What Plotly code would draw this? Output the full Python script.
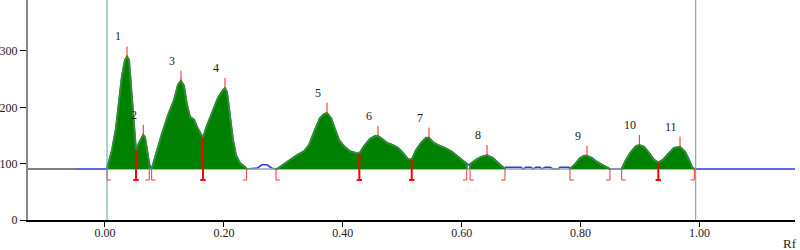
import numpy as np
import plotly.graph_objects as go

# ---------------- data ----------------
BASE = 90.5
pre_rf = [-0.1295, -0.0505]          # grey lead-in before scan start

profile_rf = [-0.0505, 0.0034, 0.0050, 0.0118, 0.0185, 0.0235, 0.0286, 0.0336, 0.0370, 0.0404,
              0.0437, 0.0471, 0.0505, 0.0521, 0.0572, 0.0622, 0.0644, 0.0673, 0.0706, 0.0740,
              0.0782, 0.0807, 0.0875, 0.0959, 0.1060, 0.1161, 0.1228, 0.1278, 0.1329, 0.1379,
              0.1430, 0.1497, 0.1548, 0.1598, 0.1648, 0.1699, 0.1800, 0.1901, 0.1985, 0.2018,
              0.2052, 0.2103, 0.2153, 0.2204, 0.2271, 0.2355, 0.2389, 0.2557, 0.2641, 0.2725,
              0.2809, 0.2893, 0.2994, 0.3112, 0.3230, 0.3347, 0.3431, 0.3516, 0.3616, 0.3684,
              0.3734, 0.3802, 0.3869, 0.3936, 0.4020, 0.4121, 0.4222, 0.4278, 0.4357, 0.4458,
              0.4542, 0.4592, 0.4659, 0.4743, 0.4844, 0.4928, 0.5013, 0.5097, 0.5159, 0.5231,
              0.5315, 0.5400, 0.5450, 0.5517, 0.5601, 0.5719, 0.5837, 0.5938, 0.6039, 0.6089,
              0.6114, 0.6140, 0.6240, 0.6325, 0.6426, 0.6526, 0.6611, 0.6711, 0.6745, 0.6997,
              0.7031, 0.7082, 0.7166, 0.7199, 0.7250, 0.7317, 0.7351, 0.7401, 0.7485, 0.7536,
              0.7620, 0.7653, 0.7805, 0.7821, 0.7906, 0.7990, 0.8057, 0.8108, 0.8192, 0.8276,
              0.8360, 0.8427, 0.8494, 0.8691, 0.8764, 0.8848, 0.8932, 0.8988, 0.9067, 0.9151,
              0.9235, 0.9307, 0.9386, 0.9470, 0.9571, 0.9672, 0.9756, 0.9823, 0.9874, 0.9907,
              1.1606]
profile_val = [90.5, 90.5, 98, 124, 163, 213, 256, 284, 290, 284,
               240, 186, 137, 124, 137, 149, 151, 147, 124, 101,
               90.5, 98, 124, 154, 186, 213, 240, 247, 238, 204,
               183, 178, 165, 154, 146, 163, 190, 217, 231, 234,
               227, 186, 142, 115, 101, 94, 90.5, 92, 98, 98,
               92, 90.5, 98, 107, 115, 122, 133, 156, 181, 188,
               190, 181, 160, 142, 131, 122, 119, 118, 131, 144,
               149, 149, 144, 137, 133, 128, 119, 108, 107, 124,
               137, 146, 146, 138, 133, 128, 121, 112, 103, 99,
               98, 99, 107, 112, 115, 110, 101, 92, 93.5, 93.5,
               90.5, 93.5, 93.5, 90.5, 93.5, 93.5, 90.5, 93.5, 93.5, 90.5,
               90.5, 93.5, 93.5, 90.5, 99, 110, 114, 114, 110, 103,
               98, 94, 90.5, 90.5, 107, 121, 131, 133, 130, 119,
               107, 102, 107, 117, 128, 130, 121, 107, 94, 90.5,
               90.5]

peak_labels = ["1", "2", "3", "4", "5", "6", "7", "8", "9", "10", "11"]
peak_rf = [0.0370, 0.0644, 0.1278, 0.2018, 0.3734, 0.4592, 0.5450, 0.6426, 0.8108, 0.8988, 0.9672]
peak_val = [290, 151, 247, 234, 190, 149, 146, 115, 114, 133, 130]

start_rf = [0.0034, 0.0785, 0.2877, 0.6140, 0.7821, 0.8691]
end_rf = [0.0745, 0.2383, 0.6085, 0.6728, 0.8494, 0.9913]
shared_rf = [0.0521, 0.1648, 0.4278, 0.5159, 0.9307]

front_rf = [0.0034, 0.9936]   # application / solvent-front lines

# ---------------- styling constants ----------------
TICK_UP = 18      # peak tick length (data units)
FOOT_Y = 71       # bottom of boundary markers
FOOT_W = 0.0065   # foot length (Rf)
FONT = "Liberation Serif, Times New Roman, serif"

prf = np.array(profile_rf)
pval = np.array(profile_val)

def curve(r):
    return float(np.interp(r, prf, pval))

fig = go.Figure()

# grey lead-in
fig.add_trace(go.Scatter(x=pre_rf, y=[BASE] * len(pre_rf), mode="lines",
                         line=dict(color="#555555", width=1.5), hoverinfo="skip"))
# blue raw profile
fig.add_trace(go.Scatter(x=profile_rf, y=profile_val, mode="lines",
                         line=dict(color="#3535f0", width=1.6), hoverinfo="skip"))
# baseline between fronts
fig.add_trace(go.Scatter(x=front_rf, y=[BASE, BASE], mode="lines",
                         line=dict(color="#8aaaaa", width=1.5), hoverinfo="skip"))

# green filled peak groups
for s, e in zip(start_rf, end_rf):
    inner = [(r, v) for r, v in zip(profile_rf, profile_val) if s < r < e]
    xs = [s, s] + [r for r, _ in inner] + [e, e]
    ys = [BASE, curve(s)] + [v for _, v in inner] + [curve(e), BASE]
    fig.add_trace(go.Scatter(x=xs, y=ys, mode="lines", fill="toself",
                             fillcolor="#008000", line=dict(color="#2f8f2f", width=2),
                             hoverinfo="skip"))

# peak apex ticks
tx, ty = [], []
for r, v in zip(peak_rf, peak_val):
    tx += [r, r, None]
    ty += [v, v + TICK_UP, None]
fig.add_trace(go.Scatter(x=tx, y=ty, mode="lines", line=dict(color="#ff2020", width=1),
                         hoverinfo="skip"))

# start markers (foot right) and end markers (foot left)
bx, by = [], []
for r in start_rf:
    bx += [r, r, r + FOOT_W, None]
    by += [BASE, FOOT_Y, FOOT_Y, None]
for r in end_rf:
    bx += [r, r, r - FOOT_W, None]
    by += [BASE, FOOT_Y, FOOT_Y, None]
fig.add_trace(go.Scatter(x=bx, y=by, mode="lines", line=dict(color="#ff3030", width=1),
                         hoverinfo="skip"))

# shared boundaries (inverted T, from curve down)
sx, sy = [], []
for r in shared_rf:
    sx += [r, r, None, r - FOOT_W * 0.7, r + FOOT_W * 0.7, None]
    sy += [curve(r), FOOT_Y, None, FOOT_Y, FOOT_Y, None]
fig.add_trace(go.Scatter(x=sx, y=sy, mode="lines", line=dict(color="#ff0000", width=2),
                         hoverinfo="skip"))

# front lines
for r in front_rf:
    fig.add_shape(type="line", xref="x", yref="paper", x0=r, x1=r, y0=0, y1=1,
                  line=dict(color="#5f9ea0", width=1), layer="above")

# peak numbers
for lab, r, v in zip(peak_labels, peak_rf, peak_val):
    fig.add_annotation(x=r, y=v + TICK_UP, text=lab, showarrow=False,
                       xanchor="center", yanchor="middle", xshift=-9, yshift=10,
                       font=dict(family=FONT, size=12, color="#222222"))

fig.add_annotation(x=1, y=0, xref="paper", yref="paper", text="Rf", showarrow=False,
                   xanchor="right", yanchor="middle", xshift=4, yshift=-23,
                   font=dict(family=FONT, size=13, color="#222222"))

fig.update_layout(
    width=800, height=250,
    margin=dict(l=28, r=5, t=0, b=30, autoexpand=False),
    plot_bgcolor="white", paper_bgcolor="white",
    showlegend=False,
    font=dict(family=FONT, size=12, color="#222222"),
)
fig.update_xaxes(range=[-0.1295, 1.1606], showgrid=False, zeroline=False, automargin=False,
                 showline=True, linecolor="black", linewidth=2,
                 ticks="outside", ticklen=5, tickcolor="black", tickwidth=1,
                 tick0=0, dtick=0.2, tickformat=".2f", ticklabelstandoff=-4,
                 tickfont=dict(family=FONT, size=12, color="#222222"))
fig.update_yaxes(range=[0, 390.5], showgrid=False, zeroline=False, automargin=False,
                 showline=True, linecolor="#888888", linewidth=2,
                 ticks="outside", ticklen=6, tickcolor="black", tickwidth=1,
                 tickvals=[0, 100, 200, 300],
                 tickfont=dict(family=FONT, size=12, color="#222222"))

fig.write_html("out.html", config={"displayModeBar": False},
               post_script="document.body.style.margin='0';document.body.style.overflow='hidden';")
